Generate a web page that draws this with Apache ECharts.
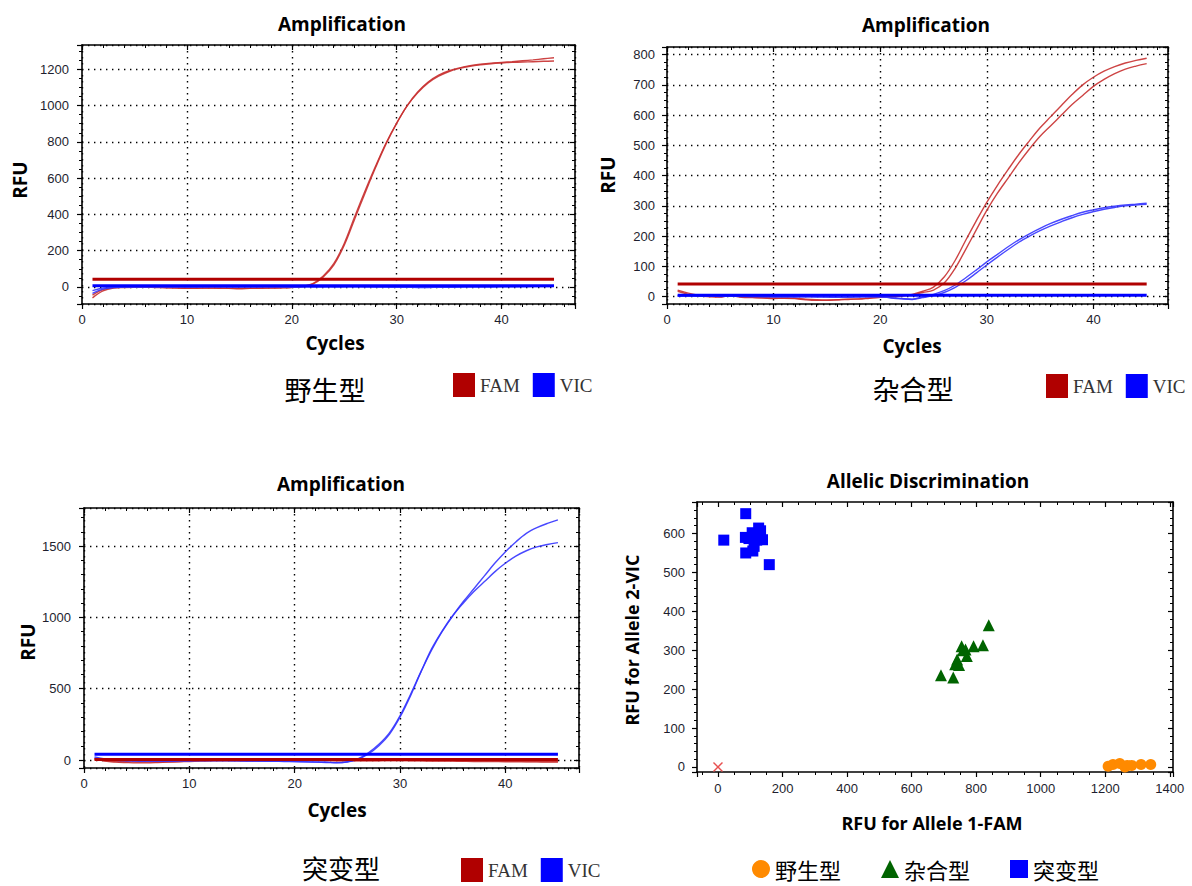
<!DOCTYPE html>
<html>
<head>
<meta charset="utf-8">
<script src="https://cdn.jsdelivr.net/npm/echarts@6.0.0/dist/echarts.min.js"></script>
<style>html,body{margin:0;padding:0;background:#fff}#c{width:1192px;height:886px}</style>
</head>
<body>
<div id="c"></div>
<script>
// ---------- data ----------
const cycles = [1,2,3,4,5,6,7,8,9,10,11,12,13,14,15,16,17,18,19,20,21,22,23,24,25,26,27,28,29,30,31,32,33,34,35,36,37,38,39,40,41,42,43,44,45];

// 野生型 (wild type)
const wtFam1 = [-60,-22,-6,-3,-2,-2,-3,-4,-6,-7,-7,-6,-7,-8,-10,-8,-7,-6,-5,-3,2,15,55,120,230,375,520,660,790,902,1000,1075,1130,1168,1192,1208,1220,1228,1234,1238,1242,1247,1252,1258,1264];
const wtFam2 = [-45,-15,-4,-2,-1,-1,-2,-3,-5,-6,-6,-6,-6,-7,-8,-7,-6,-5,-4,-2,3,18,60,128,240,388,532,668,795,904,998,1070,1125,1162,1188,1205,1217,1225,1231,1235,1238,1240,1242,1244,1246];
const wtVic1 = [-35,-12,-3,-1,0,0,1,0,0,-1,0,0,1,0,-1,0,0,1,0,0,1,0,0,1,2,1,0,-1,-1,-2,-2,-3,-3,-2,-2,-1,-1,0,0,1,1,2,2,2,3];
const wtVic2 = [-20,-6,-2,0,1,1,0,1,1,0,0,1,0,0,0,1,1,0,1,0,0,1,1,0,0,1,1,0,0,-1,-1,-1,0,0,0,0,1,1,1,2,2,2,3,3,3];
const wtFamThreshold = 42;
const wtVicThreshold = 6;

// 杂合型 (heterozygous)
const hetFam1 = [22,12,5,2,0,3,-2,-3,-4,-6,-5,-6,-10,-12,-12,-10,-8,-8,-5,-2,0,3,8,18,32,65,118,185,250,312,368,420,470,515,558,595,632,668,700,725,745,760,772,781,788];
const hetFam2 = [18,8,2,0,-1,6,0,-2,-3,-4,-4,-5,-8,-10,-11,-10,-9,-7,-4,-2,0,2,6,14,22,45,92,155,220,285,342,392,442,488,530,565,600,635,665,695,718,737,752,762,770];
const hetVic1 = [2,3,3,2,2,3,2,1,1,0,0,0,0,-1,-1,-2,-2,-1,0,0,-3,-6,-8,0,8,20,38,62,88,115,140,165,188,208,226,242,256,268,279,287,294,299,303,306,309];
const hetVic2 = [4,3,2,2,1,2,1,1,0,0,0,-1,0,0,-1,-1,-1,0,0,0,-4,-7,-9,-3,4,14,30,52,78,105,131,156,180,200,218,234,248,261,272,281,289,295,300,303,305];
const hetFamThreshold = 42;
const hetVicThreshold = 5;

// 突变型 (mutant)
const mutVic1 = [22,8,0,-4,-6,-8,-8,-7,-6,-5,-4,-3,-3,-4,-5,-6,-7,-8,-9,-10,-12,-14,-16,-18,-12,8,50,110,190,310,460,620,770,900,1010,1110,1200,1290,1380,1460,1530,1590,1630,1660,1685];
const mutVic2 = [15,4,-2,-5,-7,-8,-8,-7,-6,-5,-4,-4,-4,-5,-6,-7,-8,-9,-10,-11,-13,-15,-17,-20,-15,4,42,100,180,300,450,620,780,905,1012,1100,1180,1250,1320,1380,1430,1468,1495,1512,1525];
const mutFam1 = [10,-8,-15,-18,-20,-20,-18,-15,-12,-10,-8,-6,-5,-5,-6,-6,-5,-4,-3,-2,-2,-3,-4,-5,-6,-6,-6,-5,-4,-4,-5,-6,-7,-8,-8,-9,-10,-10,-11,-12,-12,-13,-13,-14,-14];
const mutFam2 = [5,-5,-10,-12,-14,-15,-14,-12,-10,-8,-6,-5,-4,-4,-5,-5,-4,-3,-2,-1,-1,-2,-3,-3,-4,-4,-4,-3,-3,-3,-4,-4,-5,-6,-6,-7,-7,-8,-8,-9,-9,-10,-10,-10,-11];
const mutVicThreshold = 40;
const mutFamThreshold = 3;

// Allelic discrimination [FAM RFU, VIC RFU]
const adWild = [[1209,2],[1224,6],[1245,9],[1261,0],[1268,4],[1282,4],[1311,6],[1341,6]];
const adHet = [[691,236],[729,230],[735,264],[741,276],[747,262],[755,310],[759,300],[767,302],[771,285],[792,310],[821,313],[839,364]];
const adMut = [[86,651],[18,583],[85,590],[86,550],[108,555],[106,602],[126,614],[132,607],[120,583],[138,584],[112,567],[159,520],[96,587]];
const adNTC = [[0,0]];

// tick labels / texts
const ampTitle = 'Amplification';
const adTitle = 'Allelic Discrimination';
const genotypeLabels = ['野生型','杂合型','突变型'];
const dyeNames = ['FAM','VIC'];

// ---------- helpers ----------
const FAM_C = '#b00000', VIC_C = '#0000ff';
const FAM_LINE = '#c83030', VIC_LINE = '#3434ff';
const TICK_FONT = 'Liberation Sans';
const BOLD_FONT = 'Open Sans';

function axisSet(kind, grid, cfg) {
  const base = { type:'value', gridIndex:grid, min:cfg.min, max:cfg.max };
  if (cfg.interval) base.interval = cfg.interval; else base.splitNumber = cfg.splitNumber;
  const main = Object.assign({}, base, {
    position: kind === 'x' ? 'bottom' : 'left',
    axisLine: { show:true, onZero:false, lineStyle:{ color:'#000', width:1.6 } },
    axisTick: { show:true, length:5, lineStyle:{ color:'#000', width:1.2 } },
    minorTick: { show:true, splitNumber:cfg.minor, length:3, lineStyle:{ color:'#000', width:1 } },
    axisLabel: { show:true, fontSize:13, color:'#1e1e2e', fontFamily:TICK_FONT, margin:cfg.margin,
      formatter: v => (Math.abs(v % cfg.step) < 1e-6 ? String(Math.round(v)) : '') },
    splitLine: { show:cfg.grid, lineStyle:{ color:'#000', width:1.4, type:[1.4,4.6] } }
  });
  const mirror = Object.assign({}, base, {
    position: kind === 'x' ? 'top' : 'right',
    axisLine: { show:true, onZero:false, lineStyle:{ color:'#000', width:1.6 } },
    axisTick: { show:true, inside:true, length:5, lineStyle:{ color:'#000', width:1.2 } },
    minorTick: { show:true, splitNumber:cfg.minor, length:3, lineStyle:{ color:'#000', width:1 } },
    axisLabel: { show:false },
    splitLine: { show:false }
  });
  return [main, mirror];
}

function pairs(vals) { return vals.map((v, i) => [cycles[i], v]); }
function curve(name, vals, gi, color) {
  return { type:'line', name, xAxisIndex:gi*2, yAxisIndex:gi*2, data:pairs(vals),
    symbol:'none', smooth:0.35, silent:true, z:3,
    lineStyle:{ color, width:1.4, opacity:0.9 },
    itemStyle:{ color: name === 'FAM' ? FAM_C : VIC_C } };
}
function threshold(name, v, gi, color) {
  return { type:'line', name, xAxisIndex:gi*2, yAxisIndex:gi*2,
    data:[[cycles[0], v], [cycles[cycles.length-1], v]],
    symbol:'none', silent:true, z:4, lineStyle:{ color, width:3 }, itemStyle:{ color } };
}
function text(x, y, t, font, rot) {
  const el = { type:'text', x, y, silent:true,
    style:{ text:t, font, fill:'#000', align:'center', verticalAlign:'middle', textAlign:'center', textVerticalAlign:'middle' } };
  if (rot) el.rotation = rot;
  return el;
}

// ---------- axes ----------
const xAxes = [], yAxes = [];
xAxes.push(...axisSet('x', 0, { min:0, max:47, interval:10, minor:5, step:10, margin:9, grid:true }));
yAxes.push(...axisSet('y', 0, { min:-94, max:1334, splitNumber:7, minor:4, step:200, margin:13, grid:true }));
xAxes.push(...axisSet('x', 1, { min:0, max:47, interval:10, minor:5, step:10, margin:9, grid:true }));
yAxes.push(...axisSet('y', 1, { min:-24, max:825, splitNumber:8, minor:4, step:100, margin:12, grid:true }));
xAxes.push(...axisSet('x', 2, { min:0, max:47, interval:10, minor:5, step:10, margin:9, grid:true }));
yAxes.push(...axisSet('y', 2, { min:-56, max:1768, splitNumber:4, minor:5, step:500, margin:13, grid:true }));
xAxes.push(...axisSet('x', 3, { min:-65, max:1410, splitNumber:7, minor:4, step:200, margin:10, grid:false }));
yAxes.push(...axisSet('y', 3, { min:-13, max:681, splitNumber:7, minor:5, step:100, margin:12, grid:false }));

// ---------- series ----------
const series = [
  curve('FAM', wtFam1, 0, FAM_LINE), curve('FAM', wtFam2, 0, FAM_LINE),
  curve('VIC', wtVic1, 0, VIC_LINE), curve('VIC', wtVic2, 0, VIC_LINE),
  threshold('FAM阈值', wtFamThreshold, 0, FAM_C), threshold('VIC阈值', wtVicThreshold, 0, VIC_C),

  curve('FAM', hetFam1, 1, FAM_LINE), curve('FAM', hetFam2, 1, FAM_LINE),
  curve('VIC', hetVic1, 1, VIC_LINE), curve('VIC', hetVic2, 1, VIC_LINE),
  threshold('FAM阈值', hetFamThreshold, 1, FAM_C), threshold('VIC阈值', hetVicThreshold, 1, VIC_C),

  curve('FAM', mutFam1, 2, FAM_LINE), curve('FAM', mutFam2, 2, FAM_LINE),
  curve('VIC', mutVic1, 2, VIC_LINE), curve('VIC', mutVic2, 2, VIC_LINE),
  threshold('FAM阈值', mutFamThreshold, 2, FAM_C), threshold('VIC阈值', mutVicThreshold, 2, VIC_C),

  { type:'scatter', name:genotypeLabels[0], xAxisIndex:6, yAxisIndex:6, data:adWild, symbol:'circle', symbolSize:11, itemStyle:{ color:'#ff8a00', opacity:1 } },
  { type:'scatter', name:genotypeLabels[1], xAxisIndex:6, yAxisIndex:6, data:adHet, symbol:'triangle', symbolSize:12, itemStyle:{ color:'#006400', opacity:1 } },
  { type:'scatter', name:genotypeLabels[2], xAxisIndex:6, yAxisIndex:6, data:adMut, symbol:'rect', symbolSize:11, itemStyle:{ color:'#0000ff', opacity:1 } },
  { type:'scatter', name:'NTC', xAxisIndex:6, yAxisIndex:6, data:adNTC,
    symbol:'path://M0,1L1,0L5,4L9,0L10,1L6,5L10,9L9,10L5,6L1,10L0,9L4,5Z', symbolSize:10, itemStyle:{ color:'#e85050', opacity:1 } }
];

// ---------- legends ----------
function dyeLegend(left, top) {
  return { left, top, padding:0, orient:'horizontal', itemGap:13, itemWidth:22, itemHeight:24,
    icon:'rect', selectedMode:false, data:dyeNames, itemStyle:{ borderWidth:0 },
    textStyle:{ fontFamily:'Liberation Serif', fontSize:19, lineHeight:22, color:'#333' } };
}
const legends = [
  dyeLegend(453, 373),
  dyeLegend(1046, 374),
  dyeLegend(461, 858),
  { left:752, top:858, padding:0, orient:'horizontal', itemGap:40, itemWidth:18, itemHeight:18,
    selectedMode:false, itemStyle:{ borderWidth:0, opacity:1 },
    data:[ { name:genotypeLabels[0], icon:'circle' }, { name:genotypeLabels[1], icon:'triangle' }, { name:genotypeLabels[2], icon:'rect' } ],
    textStyle:{ fontFamily:'Noto Sans CJK SC', fontSize:22, lineHeight:21, color:'#000' } }
];

// ---------- texts ----------
const TITLE = 'bold 19px "' + BOLD_FONT + '"';
const NAME = 'bold 19px "' + BOLD_FONT + '"';
const NAME2 = 'bold 18px "' + BOLD_FONT + '"';
const CJK = '27px "Noto Sans CJK SC"';
const CJK3 = '26px "Noto Sans CJK SC"';
const graphics = [
  text(342, 24, ampTitle, TITLE),
  text(926, 25, ampTitle, TITLE),
  text(341, 484, ampTitle, TITLE),
  text(928, 481, adTitle, TITLE),
  text(20, 180, 'RFU', NAME, Math.PI/2),
  text(608, 175, 'RFU', NAME, Math.PI/2),
  text(28, 642, 'RFU', NAME, Math.PI/2),
  text(632, 640, 'RFU for Allele 2-VIC', NAME2, Math.PI/2),
  text(335, 343, 'Cycles', NAME),
  text(912, 346, 'Cycles', NAME),
  text(337, 810, 'Cycles', NAME),
  text(932, 823, 'RFU for Allele 1-FAM', NAME2),
  text(325, 389, genotypeLabels[0], CJK),
  text(913, 388, genotypeLabels[1], CJK),
  text(341, 867, genotypeLabels[2], CJK3)
];

// ---------- chart ----------
const chart = echarts.init(document.getElementById('c'), null, { renderer:'svg', width:1192, height:886 });
chart.setOption({
  animation:false,
  backgroundColor:'#fff',
  grid:[
    { left:82, top:45, width:493, height:259, show:false },
    { left:667, top:47, width:501, height:257, show:false },
    { left:84, top:508, width:495, height:260, show:false },
    { left:697, top:502, width:476, height:270, show:false }
  ],
  xAxis:xAxes,
  yAxis:yAxes,
  legend:legends,
  series,
  graphic:graphics
});
</script>
</body>
</html>
